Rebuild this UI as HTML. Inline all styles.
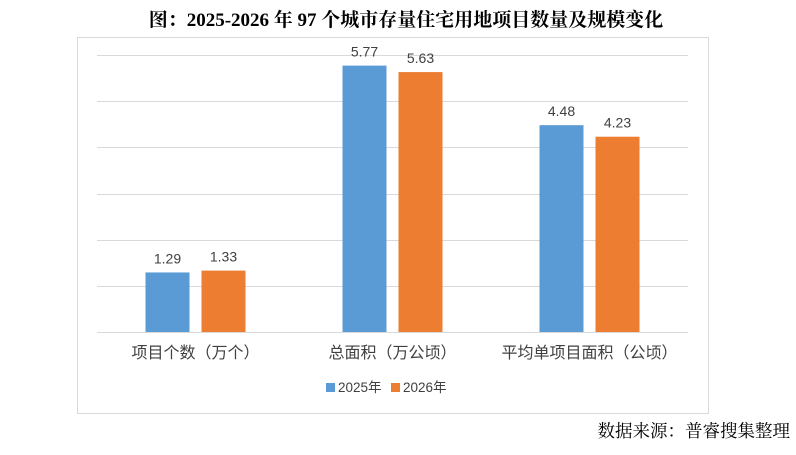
<!DOCTYPE html>
<html><head><meta charset="utf-8"><style>
body{margin:0;width:796px;height:455px;background:#fff;overflow:hidden;position:relative;font-family:"Liberation Sans","Noto Sans CJK SC",sans-serif}
#title{position:absolute;left:0;width:812px;top:5px;text-align:center;font-family:"Liberation Serif","Noto Serif CJK SC",serif;font-weight:bold;font-size:19px;color:#000}
#src{position:absolute;right:6px;top:418px;font-family:"Liberation Serif","Noto Serif CJK SC",serif;font-size:17.5px;color:#000}
svg{position:absolute;left:0;top:0}
</style></head><body>
<div id="title">图：2025-2026 年 97 个城市存量住宅用地项目数量及规模变化</div>
<svg id="chart" width="796" height="455">
<rect x="77.5" y="37.5" width="631" height="376" fill="#fff" stroke="#d9d9d9"/>
<g id="grid"></g><g id="bars"></g><g id="labels"></g><g id="legend"></g>
</svg>
<div id="src">数据来源：普睿搜集整理</div>
<script>
const categories=["项目个数（万个）","总面积（万公顷）","平均单项目面积（公顷）"];
const series2025=[1.29,5.77,4.48];
const series2026=[1.33,5.63,4.23];
const seriesNames=["2025年","2026年"];
const yTicks=[0,1,2,3,4,5,6];
const NS="http://www.w3.org/2000/svg";
const colors=["#5b9bd5","#ed7d31"];
const x0=97,x1=688,yBase=332,yTop=55,yMax=6;
const y=v=>yBase-(v/yMax)*(yBase-yTop);
const bw=(x1-x0)/categories.length;
const xc=i=>x0+bw*(i+0.5);
function mk(tag,attrs,parent){const e=document.createElementNS(NS,tag);for(const k in attrs)e.setAttribute(k,attrs[k]);document.getElementById(parent).appendChild(e);return e;}
yTicks.forEach(t=>{const l=mk('line',{x1:x0,x2:x1,y1:Math.round(y(t))+0.5,y2:Math.round(y(t))+0.5,stroke:'#d9d9d9'},'grid');

});
[series2025,series2026].forEach((s,si)=>{s.forEach((v,i)=>{
const bx=xc(i)+(si===0?-50:6);
const r=mk('rect',{x:bx,y:y(v),width:44,height:yBase-y(v),fill:colors[si]},'bars');


const t=mk('text',{x:bx+22,y:y(v)-9,'text-anchor':'middle','font-size':'14',fill:'#404040'},'labels');
t.textContent=v.toFixed(2);

});});
categories.forEach((c,i)=>{const t=mk('text',{x:xc(i),y:358,'text-anchor':'middle','font-size':'16',fill:'#404040'},'labels');
t.textContent=c;

});
seriesNames.forEach((n,i)=>{const lx=326+i*65;
const r=mk('rect',{x:lx,y:383,width:9,height:9,fill:colors[i]},'legend');


const t=mk('text',{x:lx+12,y:392,'font-size':'13.5',fill:'#404040'},'legend');
t.textContent=n;

});
</script>
</body></html>
